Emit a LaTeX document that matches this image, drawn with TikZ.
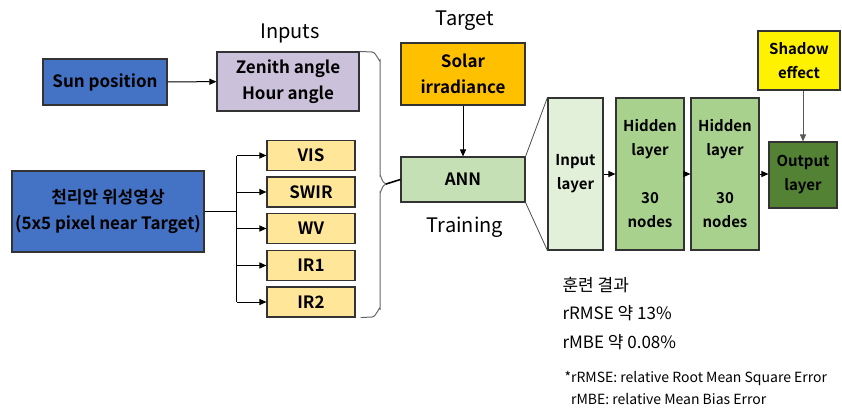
\documentclass[tikz,border=0pt]{standalone}
\usepackage{fontspec}
\setmainfont{Noto Sans CJK KR}[BoldFont={Noto Sans CJK KR Bold}]
\usetikzlibrary{arrows.meta,positioning,calc}
\definecolor{sunblue}{HTML}{4472C4}
\definecolor{anglepurple}{HTML}{CCC1DA}
\definecolor{bandyellow}{HTML}{FFE699}
\definecolor{solarorange}{HTML}{FFC000}
\definecolor{annlight}{HTML}{C5E0B4}
\definecolor{inlayer}{HTML}{E2F0D9}
\definecolor{hidlayer}{HTML}{A9D18E}
\definecolor{outlayer}{HTML}{548235}
\tikzset{
    box/.style={
        rectangle,
        draw=black!80,
        line width=1.1pt,
        inner sep=0pt,
        align=center,
        font=\bfseries\fontsize{17}{26}\selectfont
    },
    layer_box/.style={
        box,
        minimum width=68pt,
        minimum height=152pt,
        font=\bfseries\fontsize{15}{24}\selectfont
    },
    arrow/.style={
        -{Triangle[length=7pt,width=6pt]},
        line width=1pt,
        draw=black
    }
}

\begin{document}
\begin{tikzpicture}[x=1pt, y=-1pt,
    band_box/.style={box, fill=bandyellow, minimum width=88pt, minimum height=30pt},
    caption_text/.style={font=\fontsize{20}{24}\selectfont}
]
    \useasboundingbox (0,0) rectangle (842,412);

    % Inputs
    \node (sun) [box, fill=sunblue, minimum width=124pt, minimum height=46pt] at (105,82) {Sun position};
    \node (zen) [box, fill=anglepurple, minimum width=142pt, minimum height=59pt] at (288,81.5) {Zenith angle\\Hour angle};
    \node (inputs) [caption_text] at (290,33) {Inputs};
    \node (coms) [box, fill=sunblue, minimum width=192pt, minimum height=81pt] at (108,211.5) {천리안 위성영상\\(5x5 pixel near Target)};

    % Bands
    \node (vis) [band_box] at (311,155.5) {VIS};
    \node (swir) [band_box] at (311,192) {SWIR};
    \node (wv) [band_box] at (311,228.5) {WV};
    \node (ir1) [band_box] at (311,265.5) {IR1};
    \node (ir2) [band_box] at (311,302) {IR2};

    \draw[arrow] (sun) -- (zen);
    \coordinate (split) at ($(coms.east)+(32,0)$);
    \draw[line width=1pt] (coms.east) -- (split);
    \draw[line width=1pt] (split |- vis.west) -- (split |- ir2.west);
    \foreach \b in {vis,swir,wv,ir1,ir2}
        \draw[arrow] (split |- \b.west) -- (\b.west);

    % Target and ANN
    \node (solar) [box, fill=solarorange, minimum width=124pt, minimum height=62pt] at (463,74) {Solar\\irradiance};
    \node (target) [caption_text] at (465,21) {Target};
    \node (ann) [box, fill=annlight, minimum width=124pt, minimum height=45pt] at (463,179.5) {ANN};
    \node (training) [caption_text] at (465,227) {Training};
    \draw[arrow] (solar) -- (ann);

    % Brace
    \coordinate (btip) at (386,184);
    \draw[black!60, line width=1pt] (zen.north east) -- (372,52) to[out=0,in=-90] (380,60) -- (380,176)
        to[out=90,in=180] (btip) to[out=180,in=-90] (380,192) -- (380,309)
        to[out=90,in=0] (372,317) -- ($(ir2.south east)+(5,0)$);
    \draw[line width=1.6pt] (btip) -- (ann.west);

    % Layers
    \node (inl) [layer_box, fill=inlayer, minimum width=55pt] at (575.5,174) {Input\\layer};
    \node (hid1) [layer_box, fill=hidlayer] at (650,174) {Hidden\\layer\\~\\30\\nodes};
    \node (hid2) [layer_box, fill=hidlayer] at (725,174) {Hidden\\layer\\~\\30\\nodes};
    \node (outl) [layer_box, fill=outlayer, minimum height=66pt] at (803,175) {Output\\layer};
    \node (shadow) [layer_box, fill=yellow, minimum width=82pt, minimum height=59pt] at (799,60.5) {Shadow\\effect};

    \draw[black!70, line width=0.8pt] (ann.north east) -- (inl.north west);
    \draw[black!70, line width=0.8pt] (ann.south east) -- (inl.south west);
    \draw[arrow] (inl) -- (hid1);
    \draw[arrow] (hid1) -- (hid2);
    \draw[arrow] (hid2.east) -- (outl.west |- hid2.east);
    \draw[arrow, draw=black!65] (shadow.south -| outl.north) -- (outl.north);

    % Results
    \node (result) [anchor=base west, align=left, font=\fontsize{17}{28.5}\selectfont] at (559,348) {훈련 결과\\rRMSE 약 13\%\\rMBE 약 0.08\%};
    \node (note) [anchor=base west, align=left, font=\fontsize{14}{22}\selectfont] at (561,404) {*rRMSE: relative Root Mean Square Error\\\hphantom{*}rMBE: relative Mean Bias Error};
\end{tikzpicture}
\end{document}
